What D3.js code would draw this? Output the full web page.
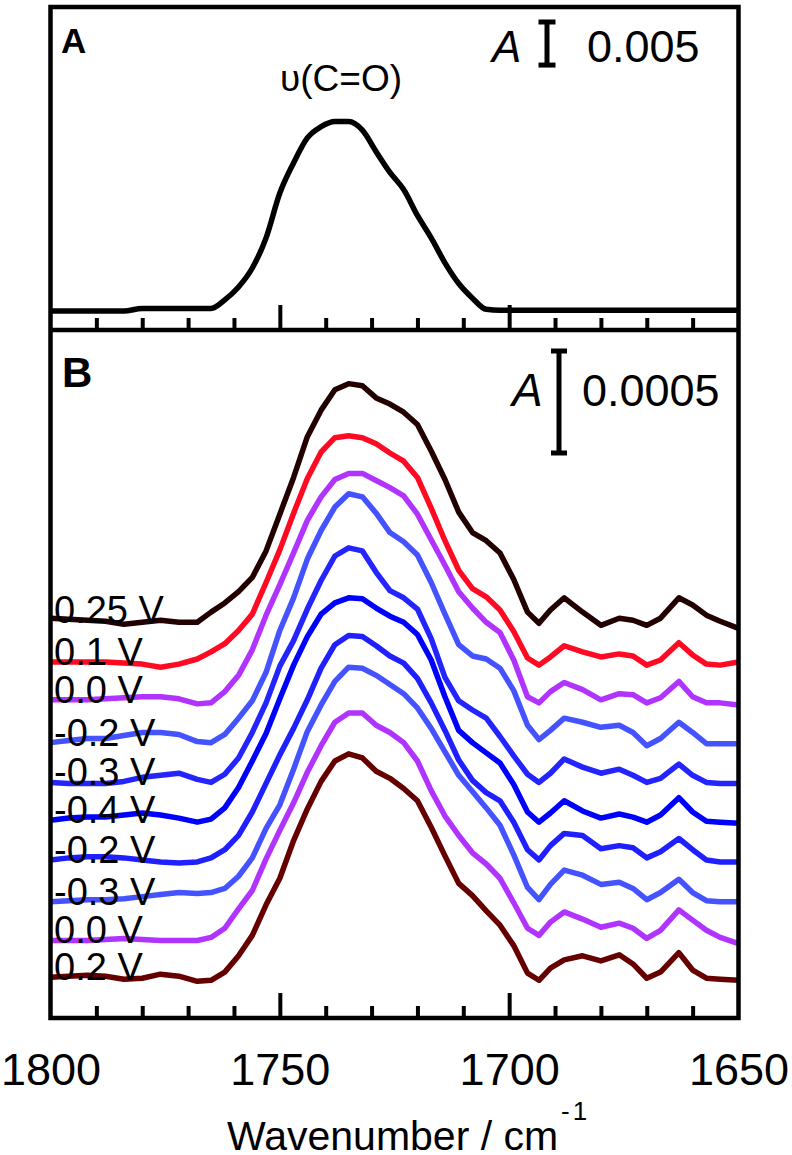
<!DOCTYPE html>
<meta charset="utf-8">
<style>

  body { margin: 0; background-color: #fff; }
  svg { display: block; font-family: "Liberation Sans", Arial, sans-serif; }

</style>
<body>
<svg width="792" height="1155"></svg>
<script src="https://d3js.org/d3.v7.min.js"></script>
<script>

// wavenumber grid (cm-1) shared by every trace
var wavenumbers = [1800,1796,1792,1788,1784,1780,1776,1772,1768,1765,
  1762,1759,1756,1753,1750,1747,1744,1741,1738,1735,
  1732,1729,1726,1723,1720,1717,1714,1711,1708,1705,
  1702,1699,1696,1693.5,1691,1688,1684,1680,1676,1673,
  1670,1667,1663,1660,1657,1654,1650];

// panel A, absorbance
var spectrumA = [-0.0001,-0.0001,-0.0001,-0.0001,-0.0001,0.0002,0.0002,0.0002,0.0002,0.0002,
  0.0012,0.0027,0.0049,0.0084,0.0136,0.0171,0.0200,0.0213,0.0219,0.0219,
  0.0209,0.0184,0.0160,0.0140,0.0110,0.0084,0.0055,0.0031,0.0014,0.0001,
  0,0,0,0,0,0,0,0,0,0,
  0,0,0,0,0,0,0];

// panel B, absorbance x 1e-4, each relative to its own baseline
var s025 = [0.1,0.05,0,-0.05,-0.2,-0.1,0,-0.1,-0.1,0.4,
  0.85,1.4,2.1,3.4,5.2,7.0,9.0,10.3,11.3,11.6,
  11.5,10.9,10.6,10.2,9.6,8.3,6.9,5.3,4.3,3.9,
  3.3,2.0,0.4,-0.15,0.5,1.1,0.4,-0.25,0.1,0,
  -0.25,0.1,1.1,0.75,0.25,-0.05,-0.4];
var s010 = [0,0,0,0,-0.05,-0.1,-0.25,-0.1,0.15,0.5,
  0.9,1.55,2.35,3.9,5.5,7.3,9.0,10.3,11.0,11.1,
  11.0,10.7,10.25,9.85,9.05,7.55,5.95,4.5,3.6,3.2,
  2.55,1.5,0.2,-0.15,0.25,0.8,0.5,0.25,0.4,0.3,
  -0.15,0.1,0.95,0.35,-0.1,-0.15,0];
var s000a = [0,0,0,0.05,0.1,0.15,0.15,0.05,-0.2,-0.15,
  0.4,1.2,2.45,4.15,5.65,7.2,8.8,9.95,10.8,11.1,
  11.1,10.75,10.4,10.0,9.1,7.85,6.6,5.3,4.5,3.8,
  3.3,1.95,0.15,-0.15,0.4,0.85,0.5,0,0.3,0.25,
  -0.15,0.1,0.9,0.15,-0.15,-0.15,-0.25];
var sm020a = [0,0.1,0.2,0.2,0.35,0.5,0.5,0.4,0.05,0,
  0.4,1.2,2.05,3.45,5.5,7.1,9.0,10.4,11.55,12.2,
  12.05,11.25,10.3,9.85,9.2,7.85,6.3,4.8,4.25,4.1,
  3.65,2.55,0.85,0.15,0.6,1.2,1.0,0.75,0.85,0.5,
  -0.15,0.2,1.0,0.5,-0.05,-0.05,-0.05];
var sm030a = [0,-0.05,-0.05,-0.05,0.05,0.25,0.35,0.45,0.15,0,
  0.4,1.2,2.45,3.9,5.7,6.95,8.5,9.9,11.1,11.5,
  11.35,10.3,9.4,9.05,8.5,7.05,5.15,4.0,3.55,3.15,
  2.25,1.3,0.4,0,0.45,1.15,0.75,0.45,0.65,0.35,
  0,0.2,0.9,0.35,0,-0.05,-0.05];
var sm040 = [0,0.1,0.15,0.15,0.25,0.35,0.25,0.1,-0.1,0.05,
  0.6,1.6,2.9,4.25,5.95,7.6,9.0,10.1,10.65,10.9,
  10.85,10.4,10.0,9.7,9.1,7.85,6.05,4.4,3.8,3.3,
  2.8,1.75,0.4,-0.1,0.35,0.95,0.45,0.1,0.3,0.15,
  -0.1,0.25,1.1,0.4,-0.05,-0.1,-0.15];
var sm020b = [0,0.1,0.15,0.15,0.1,0,-0.1,-0.15,-0.1,0.1,
  0.5,1.2,2.35,3.75,5.15,6.45,7.85,9.4,10.55,11.0,
  10.95,10.5,10.0,9.65,8.9,7.7,6.35,4.9,3.9,3.3,
  2.9,1.85,0.5,0,0.7,1.3,1.2,0.55,0.7,0.6,
  0.1,0.4,1.05,0.5,0,-0.1,-0.1];
var sm030b = [0,0.05,0.1,0.1,0.15,0.25,0.35,0.45,0.4,0.45,
  0.65,1.25,2.15,3.6,4.75,6.5,8.35,9.65,10.8,11.5,
  11.45,11.1,10.65,10.2,9.5,8.5,7.35,6.2,5.4,4.6,
  3.75,2.3,0.7,0.1,0.85,1.55,1.3,0.85,0.95,0.65,
  0.1,0.45,1.1,0.45,0.05,0,0];
var s000b = [0,0,0,0.05,0.1,0.05,0,0,0,0.15,
  0.6,1.55,2.45,4.0,5.4,6.75,8.25,9.55,10.7,11.15,
  11.15,10.55,10.2,9.7,8.8,7.35,6.1,5.15,4.3,3.75,
  3.05,1.85,0.6,0.25,0.9,1.4,1.05,0.65,0.85,0.6,
  0.1,0.5,1.5,1.0,0.5,0.15,-0.15];
var s020 = [0,0.05,0.1,0.05,-0.1,-0.05,0.15,0.05,-0.2,-0.15,
  0.25,1.05,2.05,3.55,4.85,6.7,8.25,9.6,10.6,10.95,
  10.75,10.1,9.75,9.25,8.65,7.35,5.95,4.6,4.0,3.25,
  2.55,1.55,0.2,-0.15,0.45,0.85,1.05,0.8,1.1,0.65,
  -0.05,0.25,1.2,0.35,-0.05,-0.1,-0.15];

var potentials = ["0.25 V","0.1 V","0.0 V","-0.2 V","-0.3 V","-0.4 V","-0.2 V","-0.3 V","0.0 V","0.2 V"];
var traces = [s025, s010, s000a, sm020a, sm030a, sm040, sm020b, sm030b, s000b, s020];
// vertical offsets of the stacked traces, absorbance x 1e-4
var offsets = [19.5, 17.45, 15.6, 13.5, 11.55, 9.7, 7.75, 5.7, 3.8, 2.0];
var colors = ["#220000","#ff0a22","#b133ff","#4452ff","#2424ff","#0000ff","#2020ff","#4452ff","#b133ff","#660000"];

var majorTicks = [1750, 1700];
var minorTicks = [1790,1780,1770,1760,1740,1730,1720,1710,1690,1680,1670,1660];
var tickLabels = [1800, 1750, 1700, 1650];

var svg = d3.select("svg");

var xLeft = 50.5, xRight = 738.5, yTopA = 7, yMid = 330, yBottom = 1018;

var x = d3.scaleLinear().domain([1800, 1650]).range([xLeft, xRight]);
var yA = d3.scaleLinear().domain([-0.0023, 0.0352]).range([yMid, yTopA]);
var yB = d3.scaleLinear().domain([0, 33.73]).range([yBottom, yMid]);

// panel A trace
var lineA = d3.line()
  .x(function(d, i) { return x(wavenumbers[i]); })
  .y(function(d) { return yA(d); })
  .curve(d3.curveMonotoneX);

svg.append("path")
  .datum(spectrumA)
  .attr("d", lineA)
  .attr("fill", "none")
  .attr("stroke", "#000")
  .attr("stroke-width", 5.5)
  .attr("stroke-linejoin", "round");

// panel B traces
var gB = svg.append("g").attr("class", "traces");
traces.forEach(function(t, k) {
  var line = d3.line()
    .x(function(d, i) { return x(wavenumbers[i]); })
    .y(function(d) { return yB(d + offsets[k]); });
  gB.append("path")
    .datum(t)
    .attr("d", line)
    .attr("fill", "none")
    .attr("stroke", colors[k])
    .attr("stroke-width", 5.5)
    .attr("stroke-linejoin", "round");
});

gB.selectAll("text.pot")
  .data(potentials)
  .enter().append("text")
    .attr("class", "pot")
    .attr("x", 54)
    .attr("y", function(d, k) { return yB(offsets[k]) + 3; })
    .attr("font-size", 38)
    .attr("fill", "#000")
    .text(function(d) { return d; });

// ticks, pointing up into each panel
function ticks(yPos) {
  svg.append("g")
    .attr("transform", "translate(0," + yPos + ")")
    .call(d3.axisTop(x).tickValues(majorTicks).tickSize(25).tickFormat(""))
    .call(function(g) { g.select(".domain").remove(); g.selectAll("line").attr("stroke-width", 4); });
  svg.append("g")
    .attr("transform", "translate(0," + yPos + ")")
    .call(d3.axisTop(x).tickValues(minorTicks).tickSize(12).tickFormat(""))
    .call(function(g) { g.select(".domain").remove(); g.selectAll("line").attr("stroke-width", 4); });
}
ticks(yMid);
ticks(yBottom);

var xAxis = svg.append("g")
  .attr("transform", "translate(0," + yBottom + ")")
  .call(d3.axisBottom(x).tickValues(tickLabels).tickSize(0).tickPadding(35).tickFormat(d3.format("d")));
xAxis.select(".domain").remove();
xAxis.selectAll("text")
  .attr("font-size", 45)
  .attr("font-family", "'Liberation Sans', Arial, sans-serif")
  .attr("fill", "#000");

// frame
svg.append("rect")
  .attr("x", xLeft).attr("y", yTopA)
  .attr("width", xRight - xLeft).attr("height", yBottom - yTopA)
  .attr("fill", "none").attr("stroke", "#000").attr("stroke-width", 4.5);
svg.append("line")
  .attr("x1", xLeft).attr("x2", xRight)
  .attr("y1", yMid).attr("y2", yMid)
  .attr("stroke", "#000").attr("stroke-width", 4.5);

// axis title
svg.append("text")
  .attr("x", 227).attr("y", 1150)
  .attr("font-size", 41)
  .text("Wavenumber / cm");
svg.append("text")
  .attr("x", 561).attr("y", 1120)
  .attr("font-size", 26)
  .attr("letter-spacing", 3)
  .text("-1");

// panel letters and annotation
svg.append("text").attr("x", 61).attr("y", 53)
  .attr("font-size", 35).attr("font-weight", "bold").text("A");
svg.append("text").attr("x", 62).attr("y", 387)
  .attr("font-size", 42).attr("font-weight", "bold").text("B");
svg.append("text").attr("x", 341).attr("y", 91)
  .attr("font-size", 37).attr("text-anchor", "middle").text("\u03c5(C=O)");

// scale bars
function scaleBar(xc, y0, len, cap) {
  var g = svg.append("g").attr("stroke", "#000").attr("stroke-width", 5);
  g.append("line").attr("x1", xc).attr("x2", xc).attr("y1", y0).attr("y2", y0 + len);
  g.append("line").attr("x1", xc - cap / 2).attr("x2", xc + cap / 2).attr("y1", y0).attr("y2", y0);
  g.append("line").attr("x1", xc - cap / 2).attr("x2", xc + cap / 2).attr("y1", y0 + len).attr("y2", y0 + len);
}
scaleBar(547, 22, yA(0) - yA(0.005), 17);
scaleBar(559, 351, yB(0) - yB(5), 16);

svg.append("text").attr("x", 492).attr("y", 62)
  .attr("font-size", 44).attr("font-style", "italic").text("A");
svg.append("text").attr("x", 587).attr("y", 62)
  .attr("font-size", 45).text("0.005");
svg.append("text").attr("x", 512).attr("y", 406)
  .attr("font-size", 46).attr("font-style", "italic").text("A");
svg.append("text").attr("x", 582).attr("y", 406)
  .attr("font-size", 45).text("0.0005");

</script>
